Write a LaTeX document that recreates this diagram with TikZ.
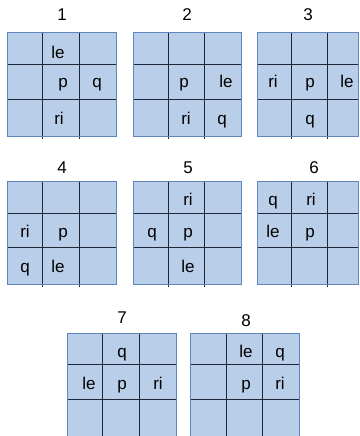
\documentclass[tikz,border=0pt]{standalone}
\usepackage{fontspec}
\setmainfont{Liberation Sans}
\definecolor{cellfill}{HTML}{B9CEE8}
\definecolor{gridedge}{HTML}{6088BF}
\definecolor{gridline}{HTML}{1E2838}
\tikzset{
  lbl/.style={font=\fontsize{17}{20}\selectfont, inner sep=0pt, anchor=base, text=black},
  ttl/.style={font=\fontsize{17}{20}\selectfont, inner sep=0pt, anchor=base, text=black},
  gridbg/.style={fill=cellfill, draw=none},
  gridin/.style={draw=gridline, line width=0.9pt},
  gridout/.style={draw=gridedge, line width=1pt}
}
% #1 x0, #2 y0, #3 x1, #4 y1, #5 vx1, #6 vx2, #7 hy1, #8 hy2
\newcommand\mygrid[8]{%
  \path[gridbg] (#1,#2) rectangle (#3,#4);
  \draw[gridin] (#5,#2) -- ({#5},{#4+3});
  \draw[gridin] (#6,#2) -- ({#6},{#4+3});
  \draw[gridin] (#1,#7) -- (#3,#7);
  \draw[gridin] (#1,#8) -- (#3,#8);
  \draw[gridout] (#1,#2) rectangle (#3,#4);
}
\begin{document}
\begin{tikzpicture}[x=1pt,y=-1pt]
\useasboundingbox (0,0) rectangle (359,436);
% row 1
\mygrid{7}{33}{116}{136}{42}{79}{64}{99}
\mygrid{133}{33}{241}{136}{168}{204}{64}{99}
\mygrid{257}{33}{358.5}{136}{291}{327}{64}{99}
% row 2
\mygrid{7}{181}{116}{284}{42}{79}{213}{247}
\mygrid{133}{181}{241}{284}{168}{204}{213}{247}
\mygrid{257}{181}{358.5}{284}{291}{327}{213}{247}
% row 3
\mygrid{67}{333}{176}{437}{102}{139}{364}{399}
\mygrid{190}{333}{299}{437}{226}{262}{364}{399}
% titles
\node[ttl] (t1) at (62,21) {1};
\node[ttl] (t2) at (187,21) {2};
\node[ttl] (t3) at (308,21) {3};
\node[ttl] (t4) at (62,173) {4};
\node[ttl] (t5) at (188,173) {5};
\node[ttl] (t6) at (314,173) {6};
\node[ttl] (t7) at (122,323) {7};
\node[ttl] (t8) at (246,326) {8};
% grid 1
\node[lbl] (a1) at (58,59) {le};
\node[lbl] (a2) at (63,88) {p};
\node[lbl] (a3) at (97,88) {q};
\node[lbl] (a4) at (59,124) {ri};
% grid 2
\node[lbl] (b1) at (184,88) {p};
\node[lbl] (b2) at (226,88) {le};
\node[lbl] (b3) at (186,124) {ri};
\node[lbl] (b4) at (222,124) {q};
% grid 3
\node[lbl] (c1) at (273,88) {ri};
\node[lbl] (c2) at (310,88) {p};
\node[lbl] (c3) at (347,88) {le};
\node[lbl] (c4) at (310,124) {q};
% grid 4
\node[lbl] (d1) at (25,237) {ri};
\node[lbl] (d2) at (63,237) {p};
\node[lbl] (d3) at (25,272) {q};
\node[lbl] (d4) at (58,272) {le};
% grid 5
\node[lbl] (e1) at (188,205) {ri};
\node[lbl] (e2) at (152,237) {q};
\node[lbl] (e3) at (188,237) {p};
\node[lbl] (e4) at (188,272) {le};
% grid 6
\node[lbl] (f1) at (273,205) {q};
\node[lbl] (f2) at (311,205) {ri};
\node[lbl] (f3) at (273,237) {le};
\node[lbl] (f4) at (310,237) {p};
% grid 7
\node[lbl] (g1) at (122,357) {q};
\node[lbl] (g2) at (89,389) {le};
\node[lbl] (g3) at (122,389) {p};
\node[lbl] (g4) at (158,389) {ri};
% grid 8
\node[lbl] (h1) at (246,357) {le};
\node[lbl] (h2) at (280,357) {q};
\node[lbl] (h3) at (246,389) {p};
\node[lbl] (h4) at (280,389) {ri};
\end{tikzpicture}
\end{document}
